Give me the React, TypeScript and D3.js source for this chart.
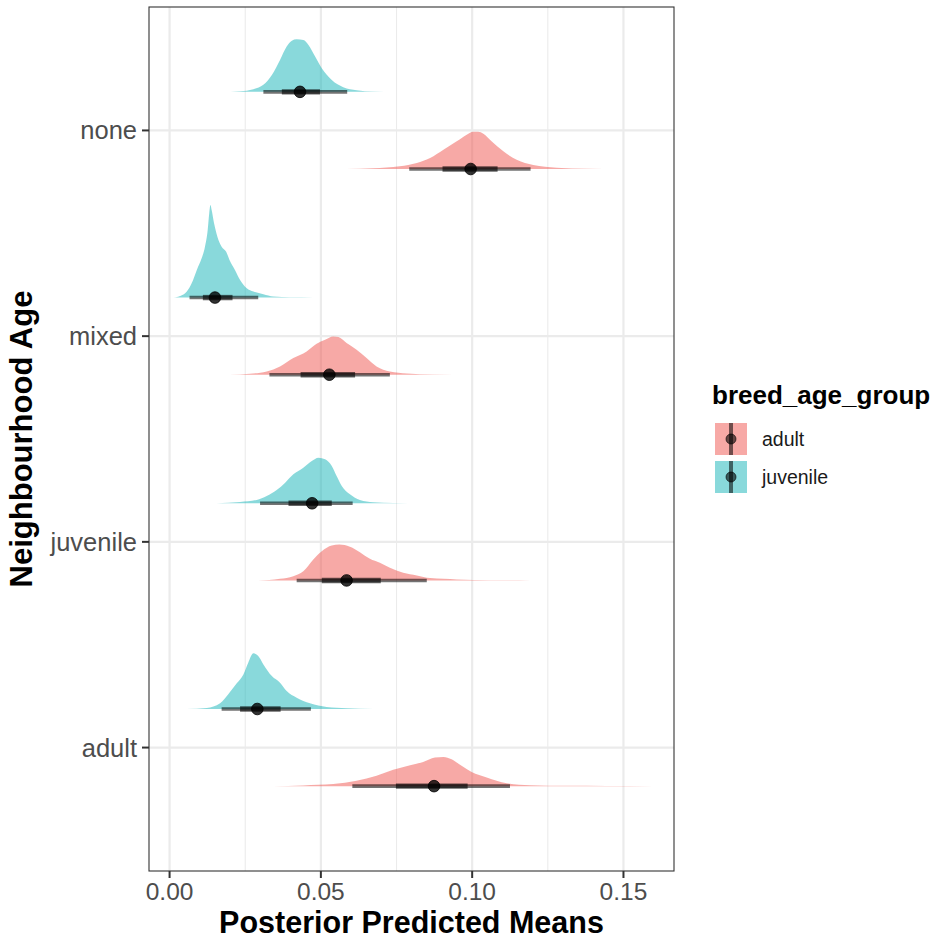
import React from "react";
import * as d3 from "d3";

// ---------- data ----------
const CATEGORIES = ["adult", "juvenile", "mixed", "none"]; // bottom -> top
const GROUPS = ["adult", "juvenile"];
const GROUP_COLORS = ["#F0544E", "#14B4B8"];

const X_TICKS = [0, 0.05, 0.1, 0.15];
const X_TICK_LABELS = ["0.00", "0.05", "0.10", "0.15"];
const X_MINOR = [0.025, 0.075, 0.125];
const X_DOMAIN = [-0.0068, 0.1667];

// density outlines (x value, density relative to tallest slab)
const noneJuvenileX = [0.0172, 0.0233, 0.0277, 0.031, 0.0338, 0.0365, 0.0387, 0.0404, 0.042, 0.0442, 0.0459, 0.0481, 0.0503, 0.0536, 0.0574, 0.0618, 0.0673, 0.0745];
const noneJuvenileD = [0, 0.007, 0.029, 0.076, 0.183, 0.345, 0.489, 0.553, 0.568, 0.561, 0.507, 0.381, 0.256, 0.129, 0.051, 0.018, 0.003, 0];
const noneAdultX = [0.0585, 0.0673, 0.0761, 0.0817, 0.0861, 0.0905, 0.0949, 0.0982, 0.1004, 0.102, 0.1037, 0.1064, 0.1103, 0.1147, 0.1202, 0.1279, 0.1378, 0.1488];
const noneAdultD = [0, 0.007, 0.029, 0.065, 0.119, 0.208, 0.299, 0.37, 0.402, 0.402, 0.381, 0.299, 0.191, 0.1, 0.043, 0.014, 0.003, 0];
const mixedJuvenileX = [0.0007, 0.0035, 0.0057, 0.0073, 0.009, 0.0106, 0.0117, 0.0126, 0.0131, 0.0135, 0.0139, 0.0147, 0.0158, 0.0172, 0.0187, 0.0198, 0.0216, 0.0233, 0.0255, 0.0277, 0.031, 0.0343, 0.0398, 0.0475, 0.0563];
const mixedJuvenileD = [0, 0.018, 0.065, 0.154, 0.299, 0.424, 0.55, 0.73, 0.909, 1, 0.946, 0.802, 0.658, 0.55, 0.496, 0.407, 0.299, 0.191, 0.1, 0.065, 0.036, 0.011, 0.003, 0.001, 0];
const mixedAdultX = [0.0198, 0.0266, 0.0321, 0.0365, 0.0409, 0.0453, 0.0486, 0.0514, 0.0541, 0.0558, 0.0585, 0.0618, 0.0651, 0.0684, 0.0728, 0.0784, 0.0871, 0.1004];
const mixedAdultD = [0, 0.011, 0.036, 0.09, 0.18, 0.251, 0.334, 0.378, 0.413, 0.407, 0.342, 0.27, 0.18, 0.09, 0.036, 0.014, 0.003, 0];
const juvenileJuvenileX = [0.0156, 0.0233, 0.0288, 0.0321, 0.0354, 0.0382, 0.0409, 0.0442, 0.047, 0.0492, 0.0514, 0.0536, 0.0552, 0.0569, 0.0596, 0.0629, 0.0673, 0.0739, 0.0838];
const juvenileJuvenileD = [0, 0.014, 0.036, 0.079, 0.143, 0.223, 0.313, 0.385, 0.456, 0.493, 0.475, 0.402, 0.294, 0.187, 0.097, 0.036, 0.011, 0.003, 0];
const juvenileAdultX = [0.0293, 0.0365, 0.0409, 0.0442, 0.0475, 0.0503, 0.0536, 0.0561, 0.0596, 0.0629, 0.0662, 0.0695, 0.0728, 0.0772, 0.0817, 0.0861, 0.0949, 0.1059, 0.1191];
const juvenileAdultD = [0, 0.018, 0.046, 0.1, 0.227, 0.316, 0.378, 0.388, 0.364, 0.305, 0.234, 0.191, 0.137, 0.083, 0.054, 0.025, 0.011, 0.003, 0];
const adultJuvenileX = [0.0057, 0.0123, 0.0167, 0.0194, 0.0222, 0.0244, 0.026, 0.0277, 0.0293, 0.031, 0.0338, 0.0365, 0.0387, 0.042, 0.0464, 0.0519, 0.0585, 0.0673, 0.0728];
const adultJuvenileD = [0, 0.011, 0.061, 0.159, 0.277, 0.374, 0.499, 0.601, 0.572, 0.482, 0.356, 0.284, 0.194, 0.122, 0.061, 0.022, 0.008, 0.001, 0];
const adultAdultX = [0.0343, 0.0442, 0.0541, 0.0618, 0.0684, 0.0739, 0.0795, 0.0838, 0.0877, 0.0905, 0.0932, 0.0965, 0.0998, 0.1048, 0.1114, 0.1191, 0.1312, 0.1444, 0.1598];
const adultAdultD = [0, 0.008, 0.022, 0.057, 0.111, 0.176, 0.227, 0.262, 0.31, 0.316, 0.291, 0.219, 0.154, 0.094, 0.032, 0.011, 0.003, 0.001, 0];

// interval summaries, in CATEGORIES order
const adultMedian = [0.0874, 0.0585, 0.0528, 0.0995];
const adultQ66Low = [0.0748, 0.0503, 0.0433, 0.0902];
const adultQ66High = [0.0985, 0.0698, 0.0613, 0.1084];
const adultQ95Low = [0.0604, 0.042, 0.033, 0.0792];
const adultQ95High = [0.1125, 0.085, 0.0728, 0.1193];
const juvenileMedian = [0.029, 0.0471, 0.015, 0.0431];
const juvenileQ66Low = [0.0233, 0.0393, 0.011, 0.0371];
const juvenileQ66High = [0.0367, 0.0536, 0.0208, 0.0497];
const juvenileQ95Low = [0.0172, 0.0299, 0.0066, 0.031];
const juvenileQ95High = [0.0467, 0.0605, 0.0293, 0.0587];

const X_TITLE = "Posterior Predicted Means";
const Y_TITLE = "Neighbourhood Age";
const LEGEND_TITLE = "breed_age_group";

// ---------- assemble ----------
const zip = (xs: number[], ds: number[]) => xs.map((x, i) => ({ x, d: ds[i] }));
const SLABS = [
  { cat: "none", group: "juvenile", pts: zip(noneJuvenileX, noneJuvenileD) },
  { cat: "none", group: "adult", pts: zip(noneAdultX, noneAdultD) },
  { cat: "mixed", group: "juvenile", pts: zip(mixedJuvenileX, mixedJuvenileD) },
  { cat: "mixed", group: "adult", pts: zip(mixedAdultX, mixedAdultD) },
  { cat: "juvenile", group: "juvenile", pts: zip(juvenileJuvenileX, juvenileJuvenileD) },
  { cat: "juvenile", group: "adult", pts: zip(juvenileAdultX, juvenileAdultD) },
  { cat: "adult", group: "juvenile", pts: zip(adultJuvenileX, adultJuvenileD) },
  { cat: "adult", group: "adult", pts: zip(adultAdultX, adultAdultD) },
];
const INTERVALS = [
  ...CATEGORIES.map((cat, i) => ({ cat, group: "adult", med: adultMedian[i], l66: adultQ66Low[i], h66: adultQ66High[i], l95: adultQ95Low[i], h95: adultQ95High[i] })),
  ...CATEGORIES.map((cat, i) => ({ cat, group: "juvenile", med: juvenileMedian[i], l66: juvenileQ66Low[i], h66: juvenileQ66High[i], l95: juvenileQ95Low[i], h95: juvenileQ95High[i] })),
];

const W = 942, H = 947;
const P = { left: 149, right: 674, top: 7, bottom: 871 };
const FONT = "'Liberation Sans', Arial, Helvetica, sans-serif";

export default function App() {
  const x = d3.scaleLinear().domain(X_DOMAIN).range([P.left, P.right]);
  const y = d3.scalePoint<string>().domain(CATEGORIES).range([P.bottom, P.top]).padding(0.6);
  const step = y.step();
  const dodge = d3.scaleOrdinal<string, number>().domain(GROUPS).range([0.1875 * step, -0.1875 * step]);
  const color = d3.scaleOrdinal<string, string>().domain(GROUPS).range(GROUP_COLORS);
  const thick = d3.scaleLinear().domain([0, 1]).range([0, 0.45 * step]);
  const baseY = (cat: string, g: string) => (y(cat) as number) + dodge(g);

  return (
    <svg width={W} height={H} style={{ position: "absolute", left: 0, top: 0, display: "block", background: "#fff" }} fontFamily={FONT}>
      <rect x={0} y={0} width={W} height={H} fill="#fff" />
      {/* grid */}
      {X_MINOR.map((v) => (
        <line key={"mn" + v} x1={x(v)} x2={x(v)} y1={P.top} y2={P.bottom} stroke="#EBEBEB" strokeWidth={1.1} />
      ))}
      {X_TICKS.map((v) => (
        <line key={"mj" + v} x1={x(v)} x2={x(v)} y1={P.top} y2={P.bottom} stroke="#EBEBEB" strokeWidth={2.2} />
      ))}
      {CATEGORIES.map((c) => (
        <line key={"hg" + c} x1={P.left} x2={P.right} y1={y(c)} y2={y(c)} stroke="#EBEBEB" strokeWidth={2.2} />
      ))}
      {/* slabs */}
      {SLABS.map((s) => {
        const b = baseY(s.cat, s.group);
        const area = d3
          .area<{ x: number; d: number }>()
          .x((p) => x(p.x))
          .y0(b)
          .y1((p) => b - thick(p.d))
          .curve(d3.curveMonotoneX);
        return <path key={s.cat + s.group} d={area(s.pts) || ""} fill={color(s.group)} fillOpacity={0.5} />;
      })}
      {/* intervals */}
      {INTERVALS.map((iv) => {
        const b = baseY(iv.cat, iv.group);
        return (
          <g key={"iv" + iv.cat + iv.group}>
            <line x1={x(iv.l95)} x2={x(iv.h95)} y1={b} y2={b} stroke="#000" strokeOpacity={0.55} strokeWidth={3.6} />
            <line x1={x(iv.l66)} x2={x(iv.h66)} y1={b} y2={b} stroke="#000" strokeOpacity={0.6} strokeWidth={5.4} />
            <circle cx={x(iv.med)} cy={b} r={5.8} fill="#000" fillOpacity={0.8} stroke="#000" strokeOpacity={0.8} strokeWidth={1} />
          </g>
        );
      })}
      {/* panel border */}
      <rect x={P.left} y={P.top} width={P.right - P.left} height={P.bottom - P.top} fill="none" stroke="#333333" strokeWidth={1.1} />
      {/* x axis */}
      {X_TICKS.map((v, i) => (
        <g key={"xt" + v}>
          <line x1={x(v)} x2={x(v)} y1={P.bottom} y2={P.bottom + 7} stroke="#333333" strokeWidth={2} />
          <text x={x(v)} y={900} textAnchor="middle" fontSize={24.5} fill="#4D4D4D">
            {X_TICK_LABELS[i]}
          </text>
        </g>
      ))}
      <text x={(P.left + P.right) / 2} y={933} textAnchor="middle" fontSize={30.5} fontWeight="bold" fill="#000">
        {X_TITLE}
      </text>
      {/* y axis */}
      {CATEGORIES.map((c) => (
        <g key={"yt" + c}>
          <line x1={P.left - 7} x2={P.left} y1={y(c)} y2={y(c)} stroke="#333333" strokeWidth={2} />
          <text x={137} y={(y(c) as number) + 9} textAnchor="end" fontSize={25.5} fill="#4D4D4D">
            {c}
          </text>
        </g>
      ))}
      <text transform={`translate(32, ${(P.top + P.bottom) / 2}) rotate(-90)`} textAnchor="middle" fontSize={31} fontWeight="bold" fill="#000">
        {Y_TITLE}
      </text>
      {/* legend */}
      <text x={712} y={404} fontSize={26} fontWeight="bold" fill="#000">
        {LEGEND_TITLE}
      </text>
      {GROUPS.map((g, i) => {
        const top = 423 + i * 38;
        return (
          <g key={"lg" + g}>
            <rect x={715} y={top} width={32} height={32} fill={color(g)} fillOpacity={0.5} />
            <line x1={731} x2={731} y1={top} y2={top + 32} stroke="#000" strokeOpacity={0.55} strokeWidth={4} />
            <circle cx={731} cy={top + 16} r={5} fill="#000" fillOpacity={0.6} stroke="#000" strokeOpacity={0.6} strokeWidth={1} />
            <text x={762} y={top + 16 + 7} fontSize={19.5} fill="#1A1A1A">
              {g}
            </text>
          </g>
        );
      })}
    </svg>
  );
}
